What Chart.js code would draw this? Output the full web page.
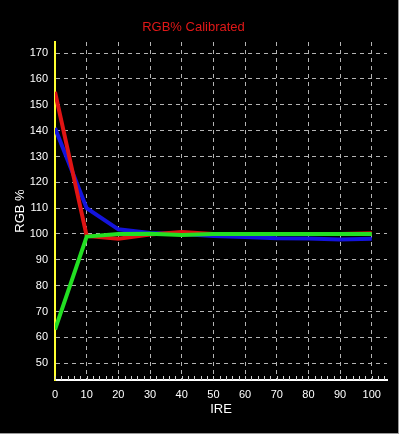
<!DOCTYPE html>
<html>
<head>
<meta charset="utf-8">
<script src="https://cdn.jsdelivr.net/npm/chart.js@4/dist/chart.umd.min.js"></script>
<style>
html,body{margin:0;padding:0;background:#000;}
#wrap{width:399px;height:434px;box-sizing:border-box;border-right:1px solid #9a9a9a;border-bottom:1px solid #9a9a9a;background:#000;}
</style>
</head>
<body>
<div id="wrap"><canvas id="c"></canvas></div>
<script>
const ireLabels = [0,10,20,30,40,50,60,70,80,90,100];
const redValues = [155, 99.3, 98.2, 99.8, 100.8, 100, 100, 100, 100, 100, 100.3];
const blueValues = [141, 110, 101.8, 100.4, 100, 99.2, 98.8, 98.4, 98.3, 97.9, 98.2];
const greenValues = [63, 99, 100, 100.1, 99.6, 100, 100, 100, 100, 100, 100];
const xTickValues = [0,10,20,30,40,50,60,70,80,90,100];
const yTickValues = [50,60,70,80,90,100,110,120,130,140,150,160,170];
const xMinorTicks = [];
for (let v = 0; v <= 104; v += 2) xMinorTicks.push(v);

function pts(vals){ return ireLabels.map((x,i)=>({x:x,y:vals[i]})); }

const minorTickPlugin = {
  id:'minorTicks',
  afterDraw(chart){
    const ctx = chart.ctx, xs = chart.scales.x, bottom = chart.chartArea.bottom;
    ctx.save();
    ctx.strokeStyle = '#d0d0d0';
    ctx.lineWidth = 1;
    xMinorTicks.forEach(v=>{
      const px = Math.round(xs.getPixelForValue(v)) + 0.5;
      ctx.beginPath(); ctx.moveTo(px, bottom - 4); ctx.lineTo(px, bottom); ctx.stroke();
    });
    ctx.restore();
  }
};

const fam = '"Liberation Sans", Arial, sans-serif';
const titleFont = {family:fam, size:13, weight:'normal'};
const tickFont = {family:fam, size:11};

new Chart(document.getElementById('c'), {
  type:'line',
  data:{
    datasets:[
      {label:'Green', data:pts(greenValues), borderColor:'#22e022', borderWidth:4, order:1},
      {label:'Red', data:pts(redValues), borderColor:'#e01414', borderWidth:4, order:2},
      {label:'Blue', data:pts(blueValues), borderColor:'#1414dc', borderWidth:4, order:3}
    ]
  },
  options:{
    responsive:true,
    maintainAspectRatio:false,
    animation:false,
    elements:{point:{radius:0}, line:{tension:0, borderJoinStyle:'miter'}},
    layout:{padding:{left:0,right:11,top:0,bottom:0}},
    plugins:{
      legend:{display:false},
      tooltip:{enabled:false},
      title:{display:true, text:'RGB% Calibrated', color:'#e01818', font:titleFont, padding:{top:20,bottom:6.4}}
    },
    scales:{
      x:{
        type:'linear', min:0, max:104.8,
        afterBuildTicks(s){ s.ticks = xTickValues.map(v=>({value:v})); },
        afterFit(s){ s.height = 53; },
        ticks:{color:'#ffffff', font:tickFont, padding:8, maxRotation:0, autoSkip:false},
        grid:{drawTicks:false, color:(c)=> c.tick && c.tick.value===0 ? 'rgba(0,0,0,0)' : '#b4b4b4', lineWidth:1},
        border:{display:true, color:'#ffffff', width:2, dash:[4,4]},
        title:{display:true, text:'IRE', color:'#ffffff', font:titleFont, padding:{top:0,bottom:16.2}}
      },
      y:{
        type:'linear', min:43.5, max:174.3,
        afterBuildTicks(s){ s.ticks = yTickValues.map(v=>({value:v})); },
        afterFit(s){ s.width = 55; },
        ticks:{color:'#ffffff', font:tickFont, padding:7, autoSkip:false},
        grid:{drawTicks:false, color:'#b4b4b4', lineWidth:1},
        border:{display:true, color:'#ffff30', width:2, dash:[4,4]},
        title:{display:true, text:'RGB %', color:'#ffffff', font:titleFont, padding:{top:12.2,bottom:0}}
      }
    }
  },
  plugins:[minorTickPlugin]
});
</script>
</body>
</html>
